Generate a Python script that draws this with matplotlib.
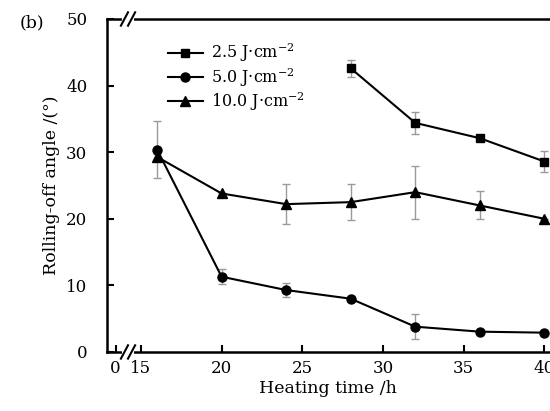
import numpy as np
import matplotlib.pyplot as plt

# data
hours = [16, 20, 24, 28, 32, 36, 40]

sq_x = [28, 32, 36, 40]
sq_y = [42.6, 34.4, 32.1, 28.6]
sq_err = [1.25, 1.7, 0.3, 1.6]

ci_y = [30.4, 11.3, 9.3, 8.0, 3.8, 3.05, 2.9]
ci_err = [4.35, 1.1, 1.05, 0.0, 1.9, 0.0, 0.0]

tr_y = [29.3, 23.8, 22.2, 22.5, 24.0, 22.0, 20.0]
tr_err = [0.5, 0.0, 3.0, 2.7, 4.0, 2.1, 0.0]

labels = ["2.5 J·cm$^{-2}$", "5.0 J·cm$^{-2}$", "10.0 J·cm$^{-2}$"]

plt.rcParams["font.family"] = "DejaVu Serif"
plt.rcParams["mathtext.fontset"] = "dejavuserif"

fig = plt.figure(figsize=(5.5, 4.11), dpi=100)
ax = fig.add_axes([0.194, 0.1436, 0.806, 0.8102])

zero_pos = 13.43   # where the "0" tick sits before the axis break
brk = 14.2

def draw(x, y, err, marker, ms, lab):
    ax.errorbar(x, y, yerr=err, fmt="none", ecolor="#9a9a9a", elinewidth=1.0,
                capsize=3, capthick=1.0, zorder=2)
    ax.plot(x, y, color="black", lw=1.5, marker=marker, ms=ms, label=lab, zorder=3)

draw(sq_x, sq_y, sq_err, "s", 6, labels[0])
draw(hours, ci_y, ci_err, "o", 6.5, labels[1])
draw(hours, tr_y, tr_err, "^", 7, labels[2])

ax.set_xlim(12.88, 40.35)
ax.set_ylim(0, 50)
ax.set_xticks([zero_pos, 15, 20, 25, 30, 35, 40])
ax.set_xticklabels(["0", "15", "20", "25", "30", "35", "40"])
ax.set_yticks([0, 10, 20, 30, 40, 50])
ax.tick_params(direction="in", length=5, width=1.5, labelsize=12, pad=6)
ax.tick_params(axis="y", pad=14)

for s in ["left", "bottom", "top"]:
    ax.spines[s].set_linewidth(1.8)
ax.spines["right"].set_visible(False)

# axis break marks on top and bottom spines
tr = ax.get_xaxis_transform()
for yy in [0, 1]:
    ax.plot([brk - 0.25, brk + 0.25], [yy, yy], color="white", lw=3,
            transform=tr, clip_on=False, zorder=5)
    for dx in [-0.22, 0.22]:
        ax.plot([brk + dx - 0.22, brk + dx + 0.22], [yy - 0.02, yy + 0.02],
                color="black", lw=1.5, transform=tr, clip_on=False, zorder=6)

ax.set_xlabel("Heating time /h", fontsize=12.5, labelpad=2)
ax.set_ylabel("Rolling-off angle /(°)", fontsize=12.5, labelpad=4)
fig.text(0.036, 0.945, "(b)", fontsize=12.5, va="center")

ax.legend(loc="upper left", bbox_to_anchor=(0.105, 0.975), frameon=False,
          fontsize=11.5, handlelength=2.2, handletextpad=0.5, labelspacing=0.1)

fig.savefig("out.png", dpi=100)
